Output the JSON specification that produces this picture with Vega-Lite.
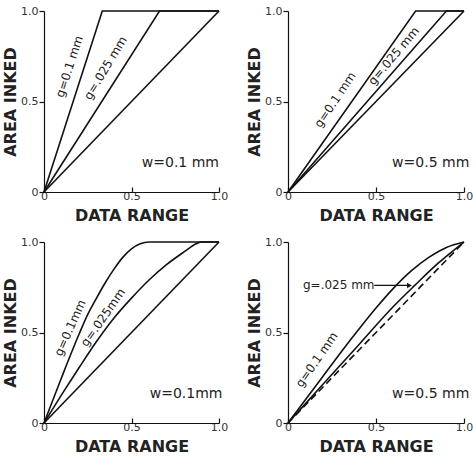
{
  "$schema": "https://vega.github.io/schema/vega-lite/v6.json",
  "padding": {"left": 2, "top": 5, "right": 0, "bottom": 0},
  "background": "white",
  "datasets": {
    "curves": [
      {"panel": 1, "series": "g01", "x": 0, "y": 0},
      {"panel": 1, "series": "g01", "x": 0.333, "y": 1},
      {"panel": 1, "series": "g01", "x": 1, "y": 1},
      {"panel": 1, "series": "g025", "x": 0, "y": 0},
      {"panel": 1, "series": "g025", "x": 0.66, "y": 1},
      {"panel": 1, "series": "g025", "x": 1, "y": 1},
      {"panel": 1, "series": "base", "x": 0, "y": 0},
      {"panel": 1, "series": "base", "x": 1, "y": 1},
      {"panel": 2, "series": "g01", "x": 0, "y": 0},
      {"panel": 2, "series": "g01", "x": 0.725, "y": 1},
      {"panel": 2, "series": "g01", "x": 1, "y": 1},
      {"panel": 2, "series": "g025", "x": 0, "y": 0},
      {"panel": 2, "series": "g025", "x": 0.9, "y": 1},
      {"panel": 2, "series": "g025", "x": 1, "y": 1},
      {"panel": 2, "series": "base", "x": 0, "y": 0},
      {"panel": 2, "series": "base", "x": 1, "y": 1},
      {"panel": 3, "series": "g01", "x": 0, "y": 0},
      {"panel": 3, "series": "g01", "x": 0.1, "y": 0.25},
      {"panel": 3, "series": "g01", "x": 0.2, "y": 0.49},
      {"panel": 3, "series": "g01", "x": 0.25, "y": 0.6},
      {"panel": 3, "series": "g01", "x": 0.3, "y": 0.69},
      {"panel": 3, "series": "g01", "x": 0.35, "y": 0.775},
      {"panel": 3, "series": "g01", "x": 0.4, "y": 0.85},
      {"panel": 3, "series": "g01", "x": 0.45, "y": 0.915},
      {"panel": 3, "series": "g01", "x": 0.5, "y": 0.962},
      {"panel": 3, "series": "g01", "x": 0.55, "y": 0.99},
      {"panel": 3, "series": "g01", "x": 0.6, "y": 1},
      {"panel": 3, "series": "g01", "x": 1, "y": 1},
      {"panel": 3, "series": "g025", "x": 0, "y": 0},
      {"panel": 3, "series": "g025", "x": 0.1, "y": 0.155},
      {"panel": 3, "series": "g025", "x": 0.2, "y": 0.305},
      {"panel": 3, "series": "g025", "x": 0.3, "y": 0.45},
      {"panel": 3, "series": "g025", "x": 0.4, "y": 0.58},
      {"panel": 3, "series": "g025", "x": 0.5, "y": 0.69},
      {"panel": 3, "series": "g025", "x": 0.6, "y": 0.79},
      {"panel": 3, "series": "g025", "x": 0.7, "y": 0.875},
      {"panel": 3, "series": "g025", "x": 0.8, "y": 0.945},
      {"panel": 3, "series": "g025", "x": 0.87, "y": 0.99},
      {"panel": 3, "series": "g025", "x": 0.9, "y": 1},
      {"panel": 3, "series": "g025", "x": 1, "y": 1},
      {"panel": 3, "series": "base", "x": 0, "y": 0},
      {"panel": 3, "series": "base", "x": 1, "y": 1},
      {"panel": 4, "series": "g01", "x": 0, "y": 0},
      {"panel": 4, "series": "g01", "x": 0.1, "y": 0.13},
      {"panel": 4, "series": "g01", "x": 0.2, "y": 0.26},
      {"panel": 4, "series": "g01", "x": 0.3, "y": 0.39},
      {"panel": 4, "series": "g01", "x": 0.4, "y": 0.515},
      {"panel": 4, "series": "g01", "x": 0.5, "y": 0.635},
      {"panel": 4, "series": "g01", "x": 0.6, "y": 0.745},
      {"panel": 4, "series": "g01", "x": 0.7, "y": 0.84},
      {"panel": 4, "series": "g01", "x": 0.8, "y": 0.915},
      {"panel": 4, "series": "g01", "x": 0.9, "y": 0.97},
      {"panel": 4, "series": "g01", "x": 1, "y": 1},
      {"panel": 4, "series": "g025", "x": 0, "y": 0},
      {"panel": 4, "series": "g025", "x": 0.2, "y": 0.215},
      {"panel": 4, "series": "g025", "x": 0.4, "y": 0.43},
      {"panel": 4, "series": "g025", "x": 0.6, "y": 0.645},
      {"panel": 4, "series": "g025", "x": 0.72, "y": 0.76},
      {"panel": 4, "series": "g025", "x": 0.85, "y": 0.88},
      {"panel": 4, "series": "g025", "x": 1, "y": 1},
      {"panel": 4, "series": "base", "x": 0, "y": 0},
      {"panel": 4, "series": "base", "x": 1, "y": 1}
    ]
  },
  "config": {
    "view": {"stroke": null},
    "axis": {
      "grid": false,
      "domainColor": "#111",
      "domainWidth": 1.2,
      "tickColor": "#111",
      "tickWidth": 1.2,
      "labelFont": "DejaVu Sans",
      "labelFontSize": 11,
      "labelColor": "#333",
      "labelFlush": false,
      "labelOverlap": false,
      "titleFont": "DejaVu Sans",
      "titleFontSize": 16,
      "titleFontWeight": "bold",
      "titleColor": "#222"
    },
    "text": {"font": "DejaVu Sans", "color": "#222"}
  },
  "spacing": 13,
  "vconcat": [
    {
      "spacing": 18,
      "hconcat": [
        {
          "width": 175, "height": 181,
          "encoding": {
            "x": {"field": "x", "type": "quantitative", "scale": {"domain": [0, 1], "nice": false}, "axis": {"values": [0, 0.5, 1], "title": "DATA RANGE", "tickSize": -5, "labelPadding": 3, "titlePadding": 6, "labelExpr": "datum.value == 0 ? '0' : format(datum.value, '.1f')"}},
            "y": {"field": "y", "type": "quantitative", "scale": {"domain": [0, 1], "nice": false}, "axis": {"values": [0, 0.5, 1], "title": "AREA INKED", "tickSize": 5, "labelPadding": 1, "titlePadding": 2, "labelExpr": "datum.value == 0 ? '0' : format(datum.value, '.1f')"}}
          },
          "layer": [
            {"data": {"name": "curves"}, "transform": [{"filter": "datum.panel == 1"}], "mark": {"type": "line", "color": "#111", "strokeWidth": 1.6}, "encoding": {"detail": {"field": "series"}}},
            {"data": {"values": [{"x": 0.145, "y": 0.693, "label": "g=0.1 mm"}]}, "mark": {"type": "text", "angle": -72, "fontSize": 12, "align": "center", "baseline": "middle"}, "encoding": {"text": {"field": "label"}}},
            {"data": {"values": [{"x": 0.351, "y": 0.685, "label": "g=.025 mm"}]}, "mark": {"type": "text", "angle": -59, "fontSize": 12, "align": "center", "baseline": "middle"}, "encoding": {"text": {"field": "label"}}},
            {"data": {"values": [{"x": 1.0, "y": 0.138, "label": "w=0.1 mm"}]}, "mark": {"type": "text", "fontSize": 14, "align": "right", "baseline": "alphabetic"}, "encoding": {"text": {"field": "label"}}}
          ]
        },
        {
          "width": 176, "height": 181,
          "encoding": {
            "x": {"field": "x", "type": "quantitative", "scale": {"domain": [0, 1], "nice": false}, "axis": {"values": [0, 0.5, 1], "title": "DATA RANGE", "tickSize": -5, "labelPadding": 3, "titlePadding": 6, "labelExpr": "datum.value == 0 ? '0' : format(datum.value, '.1f')"}},
            "y": {"field": "y", "type": "quantitative", "scale": {"domain": [0, 1], "nice": false}, "axis": {"values": [0, 0.5, 1], "title": "AREA INKED", "tickSize": 5, "labelPadding": 1, "titlePadding": 2, "labelExpr": "datum.value == 0 ? '0' : format(datum.value, '.1f')"}}
          },
          "layer": [
            {"data": {"name": "curves"}, "transform": [{"filter": "datum.panel == 2"}], "mark": {"type": "line", "color": "#111", "strokeWidth": 1.6}, "encoding": {"detail": {"field": "series"}}},
            {"data": {"values": [{"x": 0.268, "y": 0.509, "label": "g=0.1 mm"}]}, "mark": {"type": "text", "angle": -56, "fontSize": 12, "align": "center", "baseline": "middle"}, "encoding": {"text": {"field": "label"}}},
            {"data": {"values": [{"x": 0.6, "y": 0.752, "label": "g=.025 mm"}]}, "mark": {"type": "text", "angle": -50, "fontSize": 12, "align": "center", "baseline": "middle"}, "encoding": {"text": {"field": "label"}}},
            {"data": {"values": [{"x": 1.03, "y": 0.136, "label": "w=0.5 mm"}]}, "mark": {"type": "text", "fontSize": 14, "align": "right", "baseline": "alphabetic"}, "encoding": {"text": {"field": "label"}}}
          ]
        }
      ]
    },
    {
      "spacing": 18,
      "hconcat": [
        {
          "width": 175, "height": 181,
          "encoding": {
            "x": {"field": "x", "type": "quantitative", "scale": {"domain": [0, 1], "nice": false}, "axis": {"values": [0, 0.5, 1], "title": "DATA RANGE", "tickSize": -5, "labelPadding": 3, "titlePadding": 6, "labelExpr": "datum.value == 0 ? '0' : format(datum.value, '.1f')"}},
            "y": {"field": "y", "type": "quantitative", "scale": {"domain": [0, 1], "nice": false}, "axis": {"values": [0, 0.5, 1], "title": "AREA INKED", "tickSize": 5, "labelPadding": 1, "titlePadding": 2, "labelExpr": "datum.value == 0 ? '0' : format(datum.value, '.1f')"}}
          },
          "layer": [
            {"data": {"name": "curves"}, "transform": [{"filter": "datum.panel == 3"}], "mark": {"type": "line", "color": "#111", "strokeWidth": 1.6, "interpolate": "monotone"}, "encoding": {"detail": {"field": "series"}}},
            {"data": {"values": [{"x": 0.149, "y": 0.526, "label": "g=0.1mm"}]}, "mark": {"type": "text", "angle": -66, "fontSize": 12, "align": "center", "baseline": "middle"}, "encoding": {"text": {"field": "label"}}},
            {"data": {"values": [{"x": 0.337, "y": 0.583, "label": "g=.025mm"}]}, "mark": {"type": "text", "angle": -55, "fontSize": 12, "align": "center", "baseline": "middle"}, "encoding": {"text": {"field": "label"}}},
            {"data": {"values": [{"x": 1.02, "y": 0.139, "label": "w=0.1mm"}]}, "mark": {"type": "text", "fontSize": 14, "align": "right", "baseline": "alphabetic"}, "encoding": {"text": {"field": "label"}}}
          ]
        },
        {
          "width": 176, "height": 181,
          "encoding": {
            "x": {"field": "x", "type": "quantitative", "scale": {"domain": [0, 1], "nice": false}, "axis": {"values": [0, 0.5, 1], "title": "DATA RANGE", "tickSize": -5, "labelPadding": 3, "titlePadding": 6, "labelExpr": "datum.value == 0 ? '0' : format(datum.value, '.1f')"}},
            "y": {"field": "y", "type": "quantitative", "scale": {"domain": [0, 1], "nice": false}, "axis": {"values": [0, 0.5, 1], "title": "AREA INKED", "tickSize": 5, "labelPadding": 1, "titlePadding": 2, "labelExpr": "datum.value == 0 ? '0' : format(datum.value, '.1f')"}}
          },
          "layer": [
            {"data": {"name": "curves"}, "transform": [{"filter": "datum.panel == 4 && datum.series != 'base'"}], "mark": {"type": "line", "color": "#111", "strokeWidth": 1.6, "interpolate": "monotone"}, "encoding": {"detail": {"field": "series"}}},
            {"data": {"name": "curves"}, "transform": [{"filter": "datum.panel == 4 && datum.series == 'base'"}], "mark": {"type": "line", "color": "#111", "strokeWidth": 1.6, "strokeDash": [7, 4]}, "encoding": {}},
            {"data": {"values": [{"x": 0.49, "x2": 0.685, "y": 0.76}]}, "mark": {"type": "rule", "color": "#111", "strokeWidth": 1.2}, "encoding": {"x2": {"field": "x2"}}},
            {"data": {"values": [{"x": 0.69, "y": 0.76}]}, "mark": {"type": "point", "shape": "triangle-right", "filled": true, "color": "#111", "size": 30, "opacity": 1}, "encoding": {}},
            {"data": {"values": [{"x": 0.163, "y": 0.35, "label": "g=0.1 mm"}]}, "mark": {"type": "text", "angle": -55, "fontSize": 12, "align": "center", "baseline": "middle"}, "encoding": {"text": {"field": "label"}}},
            {"data": {"values": [{"x": 0.085, "y": 0.76, "label": "g=.025 mm"}]}, "mark": {"type": "text", "fontSize": 12, "align": "left", "baseline": "middle"}, "encoding": {"text": {"field": "label"}}},
            {"data": {"values": [{"x": 1.03, "y": 0.137, "label": "w=0.5 mm"}]}, "mark": {"type": "text", "fontSize": 14, "align": "right", "baseline": "alphabetic"}, "encoding": {"text": {"field": "label"}}}
          ]
        }
      ]
    }
  ]
}
